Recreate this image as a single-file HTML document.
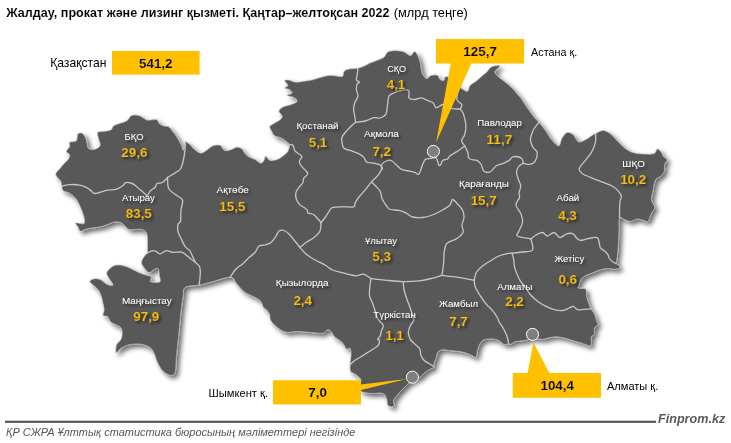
<!DOCTYPE html>
<html lang="kk"><head><meta charset="utf-8"><title>Жалдау, прокат және лизинг қызметі</title>
<style>
html,body{margin:0;padding:0;background:#fff;}
body{width:731px;height:443px;overflow:hidden;font-family:"Liberation Sans", Arial, sans-serif;}
svg{display:block;}
text{font-family:"Liberation Sans", Arial, sans-serif;}
</style></head><body>
<svg width="731" height="443" viewBox="0 0 731 443">
<defs>
<filter id="sh" x="-5%" y="-5%" width="112%" height="112%">
<feGaussianBlur in="SourceAlpha" stdDeviation="2.8"/>
<feOffset dx="3" dy="3" result="o"/>
<feComponentTransfer><feFuncA type="linear" slope="0.6"/></feComponentTransfer>
<feMerge><feMergeNode/><feMergeNode in="SourceGraphic"/></feMerge>
</filter>
<filter id="ts" x="-20%" y="-20%" width="150%" height="160%">
<feGaussianBlur in="SourceAlpha" stdDeviation="1.4"/>
<feOffset dx="1.7" dy="1.7"/>
<feComponentTransfer><feFuncA type="linear" slope="0.55"/></feComponentTransfer>
<feMerge><feMergeNode/><feMergeNode in="SourceGraphic"/></feMerge>
</filter>
</defs>
<rect width="731" height="443" fill="#fff"/>
<text x="6.30" y="17.00" font-size="12.95" font-weight="bold" fill="#000" textLength="383.20" lengthAdjust="spacingAndGlyphs" stroke="#fff" stroke-width="0.08">Жалдау, прокат және лизинг қызметі. Қаңтар–желтоқсан 2022</text>
<text x="393.80" y="17.00" font-size="12.95" fill="#000" textLength="74.00" lengthAdjust="spacingAndGlyphs">(млрд теңге)</text>
<path d="M55.7,174.4C55.6,172.3 58.4,170.5 59.8,168.7C61.2,166.9 62.5,165.2 63.9,163.7C65.3,162.2 67.1,161.1 68.1,159.6C69.1,158.1 70.0,156.1 69.7,154.7C69.4,153.3 66.4,152.8 66.4,151.4C66.4,150.0 69.2,147.9 69.7,146.4C70.2,144.9 68.6,143.2 69.7,142.3C70.8,141.4 74.9,142.1 76.3,140.7C77.7,139.3 76.9,135.3 77.9,134.1C78.9,132.8 80.8,132.6 82.1,133.2C83.3,133.8 84.6,135.8 85.4,137.4C86.2,139.1 86.5,141.3 87.0,143.1C87.5,144.9 87.2,147.0 88.2,148.1C89.2,149.2 91.2,149.7 92.8,149.7C94.4,149.7 96.5,148.9 97.7,148.1C98.9,147.3 100.1,146.5 100.2,144.8C100.3,143.2 98.9,140.3 98.5,138.2C98.1,136.1 97.0,133.5 97.7,132.4C98.4,131.3 100.5,132.0 102.7,131.6C104.9,131.2 109.0,131.0 110.9,130.0C112.8,129.0 111.6,127.0 114.2,125.5C116.8,124.0 123.6,122.7 126.5,121.0C129.4,119.3 129.4,116.4 131.5,115.5C133.6,114.6 136.5,114.8 139.0,115.5C141.5,116.2 144.7,119.2 146.5,120.0C148.3,120.8 148.3,120.0 150.0,120.0C151.7,120.0 155.2,119.1 156.8,119.7C158.4,120.3 158.2,122.7 159.3,123.7C160.5,124.7 162.1,125.4 163.7,125.9C165.2,126.4 167.1,125.9 168.6,126.8C170.1,127.7 171.1,129.4 172.4,131.1C173.8,132.8 175.5,134.8 176.7,136.7C177.9,138.6 179.0,140.8 179.8,142.3C180.6,143.9 181.1,144.6 181.7,146.0C182.3,147.4 182.7,150.5 183.2,150.5C183.7,150.5 184.2,147.5 184.6,146.0C185.0,144.5 184.5,141.9 185.4,141.7C186.3,141.4 188.3,143.2 189.9,144.5C191.5,145.8 193.0,148.2 194.8,149.7C196.6,151.1 198.7,153.1 200.6,153.2C202.5,153.3 204.3,151.8 206.4,150.5C208.5,149.2 210.7,146.5 213.0,145.7C215.3,144.9 218.5,144.7 220.4,145.5C222.3,146.3 222.7,149.8 224.5,150.5C226.3,151.2 229.0,150.2 231.1,149.7C233.2,149.1 235.0,147.3 236.8,147.2C238.6,147.0 240.4,147.7 241.8,148.8C243.2,149.9 243.9,152.4 245.1,153.8C246.3,155.2 247.5,156.2 249.2,157.1C250.8,158.0 253.1,158.5 255.0,159.5C256.9,160.5 259.2,163.0 260.7,163.2C262.2,163.3 263.2,161.6 264.0,160.4C264.8,159.2 264.7,156.2 265.7,156.2C266.7,156.2 267.9,159.8 269.8,160.4C271.7,161.0 274.9,160.3 277.2,159.5C279.5,158.7 282.0,156.8 283.8,155.4C285.6,154.0 286.9,153.1 287.9,151.3C288.9,149.5 289.7,146.2 289.6,144.7C289.5,143.2 288.5,143.3 287.1,142.2C285.7,141.1 283.4,139.2 281.3,138.1C279.2,137.0 276.4,136.9 274.7,135.7C273.0,134.5 272.2,132.2 271.4,130.7C270.6,129.2 269.4,127.8 269.8,126.6C270.2,125.4 272.3,124.5 274.0,123.4C275.7,122.3 278.4,121.3 279.8,120.1C281.2,118.9 282.4,117.5 282.2,116.0C282.0,114.5 278.8,112.6 278.9,111.1C279.0,109.6 281.5,108.0 283.1,107.0C284.8,106.0 286.8,106.0 288.8,105.3C290.9,104.6 294.0,103.6 295.4,102.8C296.8,102.0 297.5,101.4 297.1,100.4C296.7,99.5 294.6,97.9 293.0,97.1C291.4,96.3 287.3,96.1 287.2,95.4C287.1,94.7 291.7,94.0 292.1,93.0C292.5,92.0 290.9,90.5 289.7,89.7C288.5,88.9 285.0,88.7 284.7,88.0C284.4,87.3 288.0,86.7 288.0,85.5C288.0,84.3 284.6,81.5 284.7,80.6C284.8,79.7 287.0,79.8 288.8,80.1C290.6,80.4 293.1,82.0 295.4,82.2C297.7,82.4 299.9,81.8 302.8,81.4C305.7,81.0 309.7,80.5 312.7,79.8C315.7,79.1 318.5,78.0 321.0,77.3C323.5,76.6 325.3,76.0 327.5,75.7C329.7,75.4 331.6,75.6 334.1,75.7C336.6,75.8 340.8,77.2 342.4,76.5C344.0,75.8 342.9,72.7 344.0,71.5C345.1,70.3 346.7,69.6 349.0,69.1C351.3,68.5 355.3,68.8 358.0,68.2C360.7,67.6 363.4,66.3 365.4,65.5C367.4,64.7 368.1,63.9 370.0,63.1C371.9,62.3 374.3,61.6 376.6,60.6C378.9,59.6 382.2,58.7 384.0,57.3C385.8,55.9 385.8,53.5 387.3,52.4C388.8,51.3 390.5,50.9 393.1,50.7C395.7,50.6 400.1,50.7 403.0,51.5C405.9,52.3 408.5,55.7 410.4,55.7C412.3,55.7 413.3,51.5 414.5,51.5C415.7,51.5 416.8,53.8 417.8,55.7C418.8,57.6 419.8,60.9 420.3,63.1C420.9,65.3 420.7,66.9 421.1,68.8C421.5,70.7 421.8,72.9 422.7,74.6C423.6,76.2 425.4,78.6 426.8,78.7C428.2,78.8 429.2,76.0 431.0,75.4C432.8,74.9 436.1,74.7 437.6,75.4C439.1,76.1 438.9,78.7 440.0,79.5C441.1,80.3 443.3,80.8 444.1,80.4C444.9,80.0 444.3,77.6 445.0,77.1C445.7,76.5 447.5,76.8 448.3,77.1C449.1,77.4 448.9,77.8 450.0,79.0C451.1,80.2 453.0,82.4 455.0,84.0C457.0,85.6 459.7,87.6 461.8,88.8C463.9,90.0 466.1,91.8 467.5,91.3C468.9,90.8 468.6,87.2 470.0,85.5C471.4,83.8 473.9,82.9 475.8,81.4C477.7,79.9 479.6,78.1 481.5,76.4C483.4,74.8 485.7,73.1 487.3,71.5C488.9,69.9 489.3,67.9 491.4,66.9C493.5,65.9 498.7,65.4 499.7,65.7C500.7,66.0 498.0,67.9 497.2,69.0C496.4,70.1 494.4,70.9 494.7,72.3C495.0,73.7 497.0,75.5 498.8,77.2C500.6,78.9 503.2,80.4 505.4,82.2C507.6,84.0 510.1,86.1 512.0,88.0C513.9,89.9 515.4,91.8 517.0,93.7C518.6,95.6 520.4,97.4 521.9,99.5C523.4,101.6 524.6,104.0 526.0,106.1C527.4,108.1 528.6,109.8 530.1,111.8C531.6,113.8 533.6,116.6 535.1,118.4C536.6,120.2 537.5,120.5 539.2,122.5C540.9,124.5 543.3,127.6 545.4,130.5C547.5,133.4 549.4,137.2 551.6,139.8C553.8,142.4 557.0,146.1 558.7,145.9C560.4,145.7 560.4,140.9 561.8,138.7C563.2,136.5 565.1,133.3 567.0,132.6C568.9,131.9 571.2,133.1 573.1,134.6C575.0,136.1 576.2,140.9 578.3,141.8C580.3,142.7 583.2,140.8 585.4,139.8C587.6,138.8 589.9,136.7 591.6,135.7C593.3,134.7 593.8,134.5 595.7,133.6C597.6,132.7 600.5,130.5 602.9,130.5C605.3,130.5 607.9,132.0 610.1,133.6C612.3,135.2 614.2,137.8 616.2,139.8C618.2,141.9 620.5,144.2 622.4,145.9C624.3,147.6 625.5,148.8 627.5,150.0C629.5,151.2 631.8,152.4 634.7,153.1C637.6,153.8 641.8,154.0 645.0,154.1C648.2,154.2 652.2,154.3 654.2,153.5C656.2,152.7 656.1,149.2 657.3,149.0C658.5,148.8 660.4,150.9 661.4,152.1C662.4,153.3 662.1,154.9 663.1,156.2C664.1,157.5 667.0,158.5 667.2,159.9C667.4,161.3 665.0,162.6 664.5,164.4C664.0,166.2 665.0,168.7 664.5,170.6C664.0,172.5 662.8,174.3 661.4,175.7C660.0,177.1 657.5,177.4 656.3,178.8C655.1,180.2 654.8,181.7 654.2,183.9C653.6,186.1 653.3,189.4 652.8,192.1C652.3,194.8 651.1,197.4 651.4,200.0C651.7,202.6 654.7,205.2 654.7,207.4C654.7,209.6 652.5,210.9 651.4,213.2C650.3,215.5 649.3,220.2 648.1,221.4C646.9,222.6 645.8,221.0 644.0,220.6C642.2,220.2 639.6,218.8 637.4,218.9C635.2,219.0 632.8,221.2 630.8,221.4C628.8,221.6 627.0,220.4 625.1,219.8C623.2,219.2 620.6,216.5 619.6,218.1C618.6,219.7 619.2,225.8 619.0,229.6C618.8,233.4 618.7,237.3 618.5,241.2C618.3,245.0 618.0,249.5 617.7,252.7C617.4,255.8 617.0,258.3 616.8,260.1C616.6,261.9 615.8,262.5 616.3,263.6C616.8,264.7 620.1,265.8 620.1,266.7C620.1,267.6 618.0,268.9 616.0,269.2C614.0,269.5 610.5,268.3 607.8,268.4C605.0,268.5 602.0,269.3 599.5,270.0C597.0,270.7 595.2,271.9 593.0,272.8C590.8,273.7 588.0,274.4 586.0,275.5C584.0,276.6 582.1,277.9 581.0,279.5C579.9,281.1 579.5,283.6 579.1,285.0C578.7,286.4 577.6,287.5 578.7,288.2C579.8,288.9 584.4,287.7 585.7,289.1C587.0,290.5 586.0,294.0 586.5,296.5C587.0,299.0 588.3,301.8 589.0,303.9C589.7,305.9 589.9,307.0 590.9,308.8C591.9,310.6 593.8,312.7 594.7,314.6C595.6,316.5 595.9,318.8 596.4,320.4C596.9,322.0 598.3,323.3 598.0,324.5C597.7,325.7 595.3,326.2 594.7,327.8C594.1,329.4 594.8,332.9 594.2,334.4C593.7,335.9 591.9,335.3 591.4,336.8C590.9,338.3 591.7,341.9 591.4,343.4C591.1,344.9 591.3,345.9 589.8,345.9C588.3,345.9 585.0,344.2 582.4,343.4C579.8,342.6 576.9,341.8 574.1,341.0C571.4,340.2 568.6,339.2 565.9,338.5C563.2,337.8 560.5,336.9 557.7,336.8C555.0,336.7 551.7,337.3 549.4,337.7C547.1,338.1 545.5,339.1 543.7,339.3C541.9,339.5 540.7,339.1 538.7,339.0C536.8,338.9 534.0,338.3 532.0,338.5C530.0,338.7 528.4,339.7 526.4,340.1C524.4,340.6 521.6,340.9 519.8,341.2C517.9,341.4 516.6,341.2 515.3,341.6C514.0,342.0 513.1,343.3 512.0,343.7C510.9,344.1 510.0,344.1 508.6,344.2C507.2,344.3 505.4,344.8 503.8,344.2C502.2,343.6 500.7,341.5 498.8,340.6C496.9,339.7 494.8,339.0 492.3,338.9C489.8,338.8 486.1,339.0 484.0,339.8C481.9,340.6 481.0,342.1 479.9,343.9C478.8,345.7 478.0,348.3 477.4,350.5C476.8,352.7 477.1,356.3 476.1,357.1C475.2,357.9 473.4,356.1 471.7,355.4C470.0,354.7 468.2,353.6 465.9,352.9C463.6,352.2 460.4,351.7 457.7,351.3C454.9,350.9 451.9,350.8 449.4,350.5C446.9,350.2 444.7,349.4 442.8,349.7C440.9,350.0 439.0,350.7 437.9,352.1C436.8,353.5 436.9,356.0 436.2,357.9C435.5,359.8 434.1,362.2 433.8,363.7C433.5,365.2 434.8,366.1 434.1,367.0C433.4,367.9 431.1,368.6 429.7,369.4C428.3,370.2 426.8,370.9 425.5,371.9C424.2,372.9 423.3,374.2 422.2,375.2C421.1,376.2 420.6,376.6 418.9,377.7C417.2,378.8 413.8,380.5 412.0,381.5C410.2,382.5 409.5,382.8 408.3,383.7C407.1,384.6 406.4,385.6 405.0,387.0C403.6,388.4 401.5,390.3 400.0,391.9C398.5,393.5 397.0,395.3 395.9,396.8C394.8,398.3 393.7,399.6 393.4,401.0C393.1,402.4 394.6,404.2 394.3,405.1C394.0,406.1 392.9,406.7 391.8,406.7C390.7,406.7 388.5,406.3 387.7,405.1C386.9,403.9 387.4,401.1 386.8,399.3C386.2,397.5 385.6,395.4 384.4,394.4C383.2,393.3 381.3,393.1 379.4,393.0C377.5,392.9 375.1,393.6 372.8,393.5C370.5,393.4 367.4,393.1 365.4,392.7C363.4,392.3 362.1,392.2 361.0,391.1C359.9,390.0 359.0,387.8 359.0,386.0C359.0,384.2 361.0,381.9 361.0,380.4C361.0,378.9 359.9,378.2 358.8,377.1C357.8,376.0 356.1,374.8 354.7,373.8C353.3,372.8 351.4,372.8 350.6,371.3C349.8,369.8 350.1,366.6 350.1,364.7C350.1,362.8 350.4,361.7 350.6,359.8C350.8,357.9 351.2,355.1 351.1,353.2C351.0,351.3 350.6,348.9 349.8,348.2C349.0,347.5 347.5,349.7 346.5,349.1C345.5,348.6 344.9,346.2 344.0,344.9C343.1,343.6 342.5,342.6 340.9,341.3C339.3,340.0 336.2,338.4 334.6,336.8C333.0,335.2 332.3,332.7 331.1,331.5C329.9,330.3 328.9,329.4 327.5,329.7C326.1,330.0 325.2,332.8 323.0,333.3C320.8,333.8 317.1,332.9 314.1,332.7C311.1,332.5 308.2,332.2 305.2,332.0C302.2,331.8 299.3,331.4 296.3,331.5C293.3,331.6 290.1,332.7 287.4,332.4C284.7,332.1 282.4,330.9 280.3,329.7C278.2,328.5 276.5,326.9 274.9,325.3C273.3,323.7 271.4,321.7 270.5,319.9C269.6,318.1 270.2,316.2 269.6,314.6C269.0,313.0 267.9,311.3 266.9,310.1C265.8,308.9 264.1,308.3 263.3,307.4C262.6,306.5 263.0,306.0 262.4,304.8C261.8,303.6 261.3,301.7 259.8,300.3C258.3,298.9 255.7,297.9 253.5,296.7C251.3,295.5 248.5,294.5 246.4,293.2C244.3,291.9 242.8,290.5 241.0,288.7C239.2,286.9 237.5,284.4 235.7,282.5C233.9,280.6 234.6,277.1 230.3,277.1C226.0,277.1 215.2,281.1 210.0,282.4C204.8,283.7 203.2,284.3 199.1,285.1C195.0,285.9 187.8,285.5 185.2,287.4C182.5,289.3 183.9,292.2 183.2,296.3C182.5,300.4 181.7,305.7 180.9,312.1C180.2,318.5 179.4,327.2 178.7,334.7C177.9,342.2 177.0,351.0 176.4,357.2C175.8,363.4 176.1,368.9 175.3,371.9C174.6,374.9 173.2,374.9 171.9,375.3C170.6,375.7 169.1,375.1 167.4,374.2C165.7,373.3 163.4,371.8 161.7,369.7C160.0,367.6 158.5,364.5 157.2,361.7C155.9,358.9 155.1,355.1 153.8,352.7C152.5,350.3 151.6,348.5 149.3,347.1C147.1,345.7 143.7,344.5 140.3,344.1C136.9,343.7 132.2,344.1 129.0,344.8C125.8,345.5 123.2,346.9 121.1,348.2C119.0,349.5 117.0,353.3 116.2,352.7C115.5,352.1 115.8,347.1 116.6,344.8C117.4,342.6 120.2,341.3 121.1,339.2C122.0,337.1 122.4,334.5 122.2,332.4C122.0,330.3 121.9,328.5 120.0,326.8C118.1,325.1 113.1,323.9 111.0,322.2C108.9,320.5 108.9,317.7 107.6,316.6C106.3,315.5 103.7,316.6 103.1,315.5C102.5,314.4 104.2,312.0 104.2,309.8C104.2,307.6 103.3,304.7 102.8,302.5C102.3,300.3 102.1,298.6 101.4,296.6C100.7,294.6 99.9,292.2 98.7,290.4C97.5,288.6 95.8,287.5 94.3,286.0C92.8,284.5 89.8,282.7 89.8,281.5C89.8,280.3 92.5,279.1 94.3,278.8C96.1,278.5 98.4,278.8 100.5,279.7C102.6,280.6 104.6,283.3 106.7,284.2C108.8,285.1 112.5,286.0 113.0,285.1C113.5,284.2 110.5,280.7 109.4,278.8C108.4,276.9 106.7,275.1 106.7,273.5C106.7,271.9 108.1,270.3 109.4,269.0C110.8,267.7 112.6,266.1 114.8,265.5C117.0,264.9 120.0,264.9 122.8,265.5C125.6,266.1 129.0,267.8 131.7,269.0C134.4,270.2 136.3,271.6 138.8,272.6C141.3,273.7 144.7,274.6 146.8,275.3C148.9,276.0 150.7,276.0 151.3,277.0C151.9,278.0 149.8,280.6 150.4,281.5C151.0,282.4 153.3,282.4 154.9,282.4C156.5,282.4 159.5,282.7 160.2,281.5C160.9,280.3 159.6,277.4 159.3,275.3C159.0,273.2 159.1,270.1 158.4,269.0C157.7,267.9 156.4,268.4 154.9,269.0C153.4,269.6 151.1,272.6 149.5,272.6C147.9,272.6 146.4,270.6 145.1,269.0C143.8,267.4 141.7,264.9 141.5,262.8C141.3,260.7 143.2,258.1 144.2,256.5C145.2,254.9 146.8,254.2 147.4,253.0C148.0,251.8 147.5,251.5 147.5,249.2C147.5,246.9 147.7,242.1 147.5,239.3C147.3,236.6 147.3,234.3 146.4,232.7C145.5,231.0 144.1,229.9 142.3,229.4C140.5,228.9 137.9,229.4 135.7,229.4C133.5,229.4 130.9,230.0 129.1,229.4C127.3,228.8 126.4,227.2 125.0,226.1C123.6,224.9 122.6,223.2 120.8,222.5C119.0,221.8 116.5,221.7 114.3,222.0C112.1,222.3 110.2,223.7 107.7,224.5C105.2,225.3 102.2,226.4 99.4,227.0C96.7,227.6 93.5,227.7 91.2,228.1C88.9,228.5 87.2,228.9 85.4,229.4C83.6,229.9 81.7,231.5 80.5,231.1C79.3,230.7 78.8,228.3 78.0,227.0C77.2,225.7 75.4,223.8 75.5,223.2C75.6,222.6 77.4,223.1 78.8,223.2C80.2,223.3 82.8,224.2 83.8,223.7C84.8,223.2 84.7,222.1 84.6,220.4C84.5,218.8 83.7,216.0 83.0,213.8C82.3,211.6 81.5,209.4 80.5,207.2C79.5,205.0 78.4,202.5 77.2,200.6C76.0,198.7 74.6,197.1 73.1,195.7C71.6,194.3 69.8,193.2 68.1,192.4C66.4,191.6 64.3,191.8 63.2,190.7C62.1,189.6 62.1,187.6 61.7,186.0C61.3,184.4 61.7,182.9 60.7,181.0C59.7,179.1 55.9,176.5 55.7,174.4Z" fill="#595959" stroke="#c0c0c0" stroke-width="0.7" stroke-linejoin="round" filter="url(#sh)"/>
<g fill="none" stroke="#c6c6c6" stroke-width="1.3" stroke-linejoin="round" stroke-linecap="round">
<path d="M62.3,186.0C63.5,185.8 66.8,184.8 69.7,184.6C72.6,184.4 76.8,184.6 79.6,185.1C82.3,185.6 84.4,186.5 86.2,187.3C88.0,188.1 88.9,189.1 90.3,190.1C91.7,191.1 92.9,193.0 94.4,193.4C95.9,193.8 97.2,193.1 99.4,192.5C101.6,191.9 104.9,190.6 107.6,190.1C110.3,189.6 113.3,190.0 115.8,189.3C118.3,188.6 120.8,187.1 122.4,186.0C124.1,184.9 124.3,183.2 125.7,182.7C127.1,182.2 129.2,182.6 130.7,183.0C132.2,183.4 133.2,183.9 134.8,185.1C136.5,186.3 138.8,188.6 140.6,190.1C142.4,191.6 144.4,193.2 145.5,194.2C146.6,195.1 146.3,196.4 147.1,195.8C147.9,195.2 149.1,192.3 150.4,190.9C151.7,189.5 153.9,188.7 155.0,187.5C156.1,186.3 155.8,184.3 157.0,183.5C158.2,182.7 160.8,183.5 162.5,182.5C164.2,181.5 166.7,178.3 167.5,177.5"/>
<path d="M167.5,177.5C168.8,176.7 173.2,174.1 175.3,172.7C177.5,171.3 179.1,171.1 180.4,169.0C181.8,166.9 182.7,163.2 183.4,160.0C184.2,156.8 184.6,152.9 184.9,150.0C185.2,147.1 185.3,143.8 185.4,142.6"/>
<path d="M167.5,177.5C167.7,179.4 167.3,185.8 168.8,188.8C170.2,191.7 173.7,193.1 176.0,195.0C178.3,196.9 181.7,197.5 182.5,200.0C183.3,202.5 181.3,206.5 181.0,210.0C180.7,213.5 181.0,218.6 180.5,221.0C180.0,223.4 178.4,222.7 178.0,224.5C177.6,226.3 177.4,229.1 178.0,231.6C178.6,234.1 180.4,237.1 181.6,239.6C182.8,242.1 183.9,244.9 185.2,246.7C186.5,248.5 188.4,248.8 189.6,250.3C190.8,251.8 191.3,253.7 192.3,255.7C193.3,257.7 194.3,260.6 195.5,262.4C196.7,264.2 198.6,264.4 199.4,266.3C200.2,268.2 200.4,270.4 200.3,273.5C200.2,276.6 199.3,283.2 199.1,285.1"/>
<path d="M147.4,253.0C148.3,252.6 151.6,250.9 153.1,250.7C154.6,250.5 155.4,251.2 156.6,251.7C157.8,252.2 158.5,254.1 160.2,253.9C161.8,253.7 164.4,250.9 166.5,250.7C168.6,250.4 170.2,252.2 172.7,252.4C175.2,252.6 179.2,251.6 181.6,252.1C184.0,252.6 185.2,254.4 187.0,255.7C188.8,257.0 190.9,259.0 192.3,260.1C193.7,261.2 195.0,262.0 195.5,262.4"/>
<path d="M289.6,144.7C290.2,144.8 292.1,144.3 293.0,145.3C293.9,146.3 293.8,149.2 294.8,150.7C295.9,152.2 298.1,153.3 299.3,154.3C300.5,155.3 301.9,155.7 301.9,156.9C301.9,158.1 299.3,159.8 299.3,161.4C299.3,163.0 300.9,165.2 301.9,166.7C302.9,168.2 304.5,169.1 305.5,170.3C306.5,171.5 308.1,172.6 307.8,173.9C307.5,175.2 304.5,176.8 303.7,178.3C302.9,179.8 303.7,181.2 302.8,182.8C301.9,184.4 299.6,186.3 298.4,188.1C297.2,189.9 296.0,191.6 295.7,193.5C295.4,195.4 295.9,197.8 296.6,199.7C297.4,201.6 298.9,203.8 300.2,205.1C301.5,206.4 303.4,206.8 304.6,207.7C305.8,208.6 306.7,209.5 307.3,210.4C307.9,211.3 307.2,212.4 308.2,213.1C309.2,213.8 311.9,213.5 313.5,214.5C315.1,215.5 316.8,217.7 318.0,219.0C319.2,220.3 320.5,221.9 321.0,222.5"/>
<path d="M321.0,222.5C321.7,221.7 323.8,219.2 325.1,217.5C326.4,215.8 327.5,213.8 328.7,212.2C329.9,210.6 329.7,208.6 332.2,207.7C334.7,206.8 340.2,207.0 343.8,206.8C347.4,206.7 351.7,207.5 353.6,206.8C355.5,206.1 354.5,204.0 355.4,202.4C356.3,200.8 357.4,199.1 359.0,197.0C360.6,194.9 363.1,192.4 365.2,189.9C367.3,187.4 369.4,184.3 371.5,181.9C373.6,179.5 375.9,177.9 377.7,175.7C379.5,173.5 381.4,169.7 382.1,168.5"/>
<path d="M321.0,222.5C320.8,223.9 321.2,228.5 320.0,231.0C318.8,233.5 316.3,235.6 314.0,237.5C311.7,239.4 308.3,240.8 306.0,242.5C303.7,244.2 301.0,246.7 300.0,247.5"/>
<path d="M300.0,247.5C299.0,246.2 295.8,242.2 294.0,240.0C292.2,237.8 290.7,235.6 289.0,234.0C287.3,232.4 285.7,231.0 284.0,230.5C282.3,230.0 280.3,230.1 279.0,231.0C277.7,231.9 277.3,234.1 276.0,236.0C274.7,237.9 272.8,241.0 271.0,242.5C269.2,244.0 267.0,244.4 265.0,245.0C263.0,245.6 260.7,244.8 259.0,246.0C257.3,247.2 256.7,250.6 255.0,252.5C253.3,254.4 251.1,255.6 249.0,257.5C246.9,259.4 244.7,262.1 242.5,264.0C240.3,265.9 238.1,266.8 236.0,269.0C233.9,271.2 231.0,276.1 230.0,277.5"/>
<path d="M300.0,247.5C301.0,248.6 303.5,251.9 306.0,254.0C308.5,256.1 311.8,258.2 315.0,260.0C318.2,261.8 322.1,263.3 325.0,265.0C327.9,266.7 330.0,268.8 332.5,270.0C335.0,271.2 337.5,271.5 340.0,272.2C342.5,272.9 344.7,273.5 347.4,274.1C350.1,274.7 353.4,275.9 356.1,275.9C358.8,275.9 361.1,273.7 363.6,274.1C366.1,274.6 369.8,277.9 371.0,278.6"/>
<path d="M371.0,278.6C370.8,280.0 370.1,284.1 369.8,287.0C369.6,289.9 369.1,293.0 369.5,295.7C369.9,298.4 371.8,301.1 372.5,303.0C373.2,304.9 373.4,305.6 374.0,307.4C374.6,309.1 375.2,311.4 375.9,313.5C376.6,315.6 377.3,318.1 378.3,319.7C379.3,321.3 381.2,322.3 382.0,323.4C382.8,324.5 383.4,325.3 383.3,326.5C383.2,327.7 381.9,329.3 381.4,330.8C380.9,332.3 380.8,334.3 380.2,335.7C379.6,337.1 377.8,338.7 377.7,339.4C377.6,340.1 379.2,339.1 379.4,340.0C379.5,340.9 379.4,343.5 378.6,344.9C377.8,346.3 376.3,346.9 374.5,348.2C372.7,349.4 370.1,351.0 367.9,352.4C365.7,353.8 363.5,355.1 361.3,356.5C359.1,357.9 356.6,359.2 354.7,360.6C352.8,362.0 350.9,364.0 350.1,364.7"/>
<path d="M371.0,278.6C373.3,278.9 379.3,279.6 384.7,280.1C390.1,280.6 397.5,281.5 403.3,281.6C409.1,281.7 414.6,281.3 419.4,280.8C424.1,280.3 428.1,279.3 431.8,278.4C435.5,277.5 440.1,275.9 441.8,275.4"/>
<path d="M403.3,281.6C403.4,282.9 403.4,286.5 404.0,289.5C404.6,292.5 406.1,296.9 407.0,299.5C407.9,302.1 408.4,303.2 409.1,305.0C409.8,306.8 410.4,308.7 411.0,310.5C411.6,312.3 412.3,314.3 412.8,316.0C413.3,317.7 414.2,319.0 413.8,320.5C413.4,322.0 411.6,323.1 410.7,324.9C409.8,326.7 408.7,329.6 408.4,331.5C408.1,333.4 408.7,335.1 409.1,336.5C409.5,337.9 409.7,338.7 410.7,340.0C411.7,341.3 413.7,342.9 415.2,344.4C416.7,345.9 418.8,347.1 419.8,349.0C420.8,350.9 420.2,353.6 421.0,355.5C421.8,357.4 422.9,359.1 424.3,360.5C425.7,361.9 427.9,362.8 429.5,363.8C431.1,364.8 433.3,366.2 434.1,366.7"/>
<path d="M371.5,181.9C372.2,182.6 374.4,184.7 375.9,186.3C377.4,187.9 379.4,189.6 380.4,191.7C381.4,193.8 381.1,196.4 382.1,198.8C383.1,201.2 385.2,204.2 386.6,206.0C388.0,207.8 388.1,208.8 390.2,209.5C392.3,210.2 396.4,209.8 399.1,210.4C401.8,211.0 404.0,212.0 406.2,213.1C408.4,214.2 409.8,216.3 412.5,217.0C415.2,217.7 419.2,217.8 422.5,217.5C425.8,217.2 429.2,216.2 432.5,215.0C435.8,213.8 439.6,211.7 442.5,210.0C445.4,208.3 448.3,206.8 450.0,205.0C451.7,203.2 451.2,199.7 452.5,199.5C453.8,199.3 455.8,202.2 457.5,204.0C459.2,205.8 461.4,207.8 462.5,210.0C463.6,212.2 464.1,215.0 464.0,217.5C463.9,220.0 462.2,222.5 462.0,225.0C461.8,227.5 463.9,230.1 463.0,232.4C462.1,234.7 459.3,236.7 456.6,238.6C453.9,240.5 448.8,241.3 446.7,243.6C444.6,245.9 444.7,249.2 444.2,252.3C443.7,255.4 443.9,259.2 443.7,262.2C443.5,265.1 443.1,267.8 442.8,270.0C442.5,272.2 442.0,274.5 441.8,275.4"/>
<path d="M441.8,275.4C444.3,275.7 452.3,276.5 456.6,277.1C460.9,277.7 464.9,278.6 467.8,279.1C470.7,279.6 473.1,279.9 474.2,280.1"/>
<path d="M474.2,280.1C474.4,281.2 474.3,284.4 475.3,287.0C476.3,289.6 478.4,292.8 480.2,295.7C482.0,298.6 484.3,301.9 486.4,304.4C488.5,306.9 490.7,308.3 492.6,310.6C494.5,312.9 496.5,316.1 497.6,318.0C498.7,319.9 498.4,320.5 499.2,322.0C500.0,323.5 501.6,325.2 502.7,327.2C503.8,329.2 505.1,331.7 506.0,333.8C506.9,335.9 507.6,338.1 508.0,339.8C508.4,341.5 508.5,343.5 508.6,344.2"/>
<path d="M474.2,280.1C474.6,278.8 475.1,274.5 476.5,272.1C477.9,269.7 480.4,267.8 482.7,265.9C485.0,264.0 487.5,262.6 490.2,261.0C492.9,259.4 495.7,257.3 498.8,256.0C501.9,254.7 506.2,253.8 508.7,253.3C511.2,252.8 511.7,253.2 514.0,253.0C516.3,252.8 519.4,252.5 522.5,252.0C525.6,251.5 531.1,252.2 532.5,250.0C533.9,247.8 531.2,240.8 531.0,239.0"/>
<path d="M512.0,253.0C512.3,254.1 513.2,257.1 513.7,259.7C514.2,262.3 513.9,265.0 514.9,268.4C515.9,271.8 518.2,277.0 519.8,280.0C521.4,283.0 522.9,284.1 524.7,286.6C526.5,289.1 528.3,292.3 530.5,294.8C532.7,297.3 535.3,299.5 537.9,301.4C540.5,303.3 543.4,305.0 546.1,306.4C548.9,307.8 551.6,309.0 554.4,309.7C557.1,310.4 560.1,310.8 562.6,310.5C565.1,310.2 567.4,308.7 569.2,308.0C571.0,307.3 571.9,306.1 573.3,306.4C574.7,306.7 575.6,309.2 577.4,309.7C579.2,310.2 581.8,309.4 584.0,309.3C586.2,309.2 589.8,308.9 590.9,308.8"/>
<path d="M531.0,239.0C531.8,238.3 534.1,236.1 536.0,235.0C537.9,233.9 540.6,232.3 542.5,232.5C544.4,232.7 545.6,236.0 547.5,236.0C549.4,236.0 551.9,232.2 554.0,232.5C556.1,232.8 557.9,237.3 560.0,237.5C562.1,237.7 564.4,234.4 566.6,233.8C568.8,233.2 571.6,233.1 573.2,233.8C574.9,234.5 575.3,236.8 576.5,237.9C577.7,239.0 578.7,240.3 580.6,240.4C582.5,240.5 585.2,239.2 588.0,238.7C590.8,238.2 595.2,236.9 597.1,237.6C599.0,238.3 598.7,241.1 599.2,242.8C599.8,244.5 599.5,246.4 600.4,247.8C601.3,249.2 603.3,250.0 604.5,251.1C605.7,252.2 607.0,253.2 607.8,254.4C608.6,255.6 608.6,257.3 609.4,258.5C610.2,259.7 611.6,260.9 612.7,261.8C613.9,262.7 615.7,263.3 616.3,263.6"/>
<path d="M523.2,163.2C522.4,163.8 519.4,165.4 518.3,167.0C517.2,168.6 516.6,170.6 516.6,172.7C516.6,174.8 517.6,177.1 518.3,179.3C519.0,181.5 520.6,183.6 520.7,185.9C520.8,188.2 519.2,191.1 519.0,193.0C518.8,194.9 520.0,195.5 519.5,197.5C519.0,199.5 515.8,202.2 516.0,205.0C516.2,207.8 519.9,211.1 521.0,214.0C522.1,216.9 522.8,219.7 522.5,222.5C522.2,225.3 519.8,228.8 519.0,231.0C518.2,233.2 515.5,234.7 517.5,236.0C519.5,237.3 528.8,238.5 531.0,239.0"/>
<path d="M523.2,163.2C524.3,163.4 527.8,164.7 529.8,164.4C531.8,164.1 533.9,163.3 535.1,161.3C536.3,159.3 537.5,154.8 537.2,152.5C536.9,150.2 534.2,149.4 533.1,147.5C532.0,145.6 531.0,142.9 530.6,141.0C530.2,139.1 530.4,138.3 531.0,136.2C531.6,134.1 532.7,130.9 534.1,128.5C535.5,126.1 538.4,123.1 539.2,122.0"/>
<path d="M464.7,146.0C465.2,147.0 467.2,150.3 467.8,152.2C468.4,154.1 467.9,156.0 468.4,157.2C468.9,158.4 469.6,159.0 471.0,159.5C472.4,160.0 475.3,159.6 477.0,160.4C478.7,161.2 480.1,162.7 481.2,164.5C482.3,166.3 482.2,169.8 483.7,171.0C485.2,172.2 488.1,172.8 490.2,172.0C492.2,171.2 493.9,167.4 496.0,166.0C498.1,164.6 500.4,164.6 502.6,163.7C504.8,162.8 507.6,161.5 509.2,160.4C510.8,159.3 510.9,157.6 512.5,157.0C514.1,156.4 517.4,156.6 519.0,157.0C520.6,157.4 521.7,158.5 522.4,159.5C523.1,160.5 523.1,162.6 523.2,163.2"/>
<path d="M460.1,109.1C460.6,109.7 462.0,110.9 462.8,112.5C463.6,114.1 464.2,116.4 464.7,118.7C465.2,121.0 465.9,123.4 465.9,126.1C465.9,128.8 465.4,132.4 464.7,134.8C464.0,137.2 461.6,138.5 461.6,140.4C461.6,142.3 464.2,145.1 464.7,146.0"/>
<path d="M459.0,88.0C458.6,89.9 456.3,96.8 456.8,99.5C457.3,102.2 461.2,102.9 461.8,104.5C462.4,106.1 460.4,108.3 460.1,109.1"/>
<path d="M355.6,122.3C357.2,122.1 362.4,121.8 365.4,121.0C368.4,120.2 371.3,118.2 373.7,117.7C376.1,117.2 377.9,118.6 380.0,118.0C382.1,117.4 384.8,116.2 386.0,114.0C387.2,111.8 387.0,108.0 387.5,105.0C388.0,102.0 387.8,98.1 389.0,96.0C390.2,93.9 392.5,93.5 395.0,92.5C397.5,91.5 401.7,90.2 404.0,90.0C406.3,89.8 408.2,89.7 409.0,91.0C409.8,92.3 408.0,96.5 409.0,97.9C410.0,99.3 412.7,99.5 414.8,99.5C416.9,99.5 419.3,97.8 421.4,97.9C423.5,98.1 425.3,99.6 427.2,100.4C429.1,101.2 431.5,101.6 433.0,102.8C434.5,104.0 434.6,107.5 436.2,107.8C437.8,108.1 440.8,104.6 442.8,104.5C444.8,104.4 446.4,106.3 448.0,107.0C449.6,107.7 450.7,108.2 452.7,108.6C454.7,108.9 458.9,109.0 460.1,109.1"/>
<path d="M358.0,68.2C357.9,69.3 357.5,72.9 357.2,74.8C356.9,76.7 356.0,78.6 356.4,79.8C356.8,81.0 359.6,81.5 359.7,82.2C359.8,82.9 357.8,82.7 357.2,83.9C356.6,85.2 356.3,87.7 356.4,89.7C356.5,91.8 358.3,94.0 358.0,96.2C357.7,98.4 355.4,100.6 354.7,102.8C354.0,105.0 353.6,107.2 353.6,109.4C353.6,111.6 354.4,113.8 354.7,116.0C355.0,118.2 355.5,121.2 355.6,122.3"/>
<path d="M355.6,122.3C354.6,123.2 351.6,125.7 349.8,127.5C348.0,129.3 346.1,131.4 344.8,133.0C343.5,134.6 342.7,135.8 342.2,137.0C341.7,138.2 341.4,138.2 341.7,140.0C342.0,141.8 342.2,146.2 343.8,148.0C345.4,149.8 348.6,149.8 351.0,150.7C353.4,151.6 356.0,152.4 358.1,153.4C360.2,154.4 361.9,155.4 363.4,156.9C364.9,158.4 365.2,161.2 367.0,162.3C368.8,163.4 371.7,162.6 374.1,163.2C376.5,163.8 380.0,164.9 381.3,165.8C382.6,166.7 382.0,168.1 382.1,168.5"/>
<path d="M382.1,168.5C382.0,167.9 380.4,166.3 381.3,165.0C382.2,163.7 385.7,161.2 387.5,160.5C389.3,159.8 390.5,160.2 392.0,161.0C393.5,161.8 394.8,163.6 396.4,165.0C398.0,166.4 399.6,168.4 401.8,169.4C404.0,170.4 407.6,170.7 409.8,171.2C412.0,171.7 413.5,171.9 415.0,172.4C416.5,172.9 417.8,175.2 419.0,174.0C420.2,172.8 421.5,167.2 422.4,165.0C423.3,162.8 423.7,162.0 424.3,161.0C424.9,160.0 424.6,159.6 426.1,159.1C427.7,158.6 431.9,158.0 433.6,157.8C435.3,157.6 435.4,157.1 436.1,157.8C436.8,158.5 437.6,161.0 438.0,162.2C438.4,163.4 438.2,164.5 438.6,165.0C439.0,165.5 439.7,165.8 440.4,165.0C441.1,164.2 441.8,161.3 442.9,160.3C444.0,159.3 446.1,159.8 447.3,159.1C448.5,158.4 448.6,157.0 449.8,156.0C451.0,155.0 453.1,153.9 454.7,152.9C456.3,151.9 458.0,151.0 459.7,149.8C461.4,148.7 463.9,146.6 464.7,146.0"/>
<path d="M595.7,133.6C595.6,135.2 596.0,139.8 595.3,142.9C594.6,146.0 593.2,149.2 591.6,152.1C590.0,155.0 587.5,157.6 585.4,160.3C583.3,163.0 579.8,166.3 579.3,168.5C578.8,170.7 580.3,172.1 582.4,173.7C584.5,175.2 588.4,176.4 591.6,177.8C594.9,179.2 598.5,180.5 601.9,181.9C605.3,183.3 609.4,184.5 612.1,186.0C614.8,187.5 616.8,189.4 618.3,191.1C619.8,192.8 621.1,194.5 621.4,196.2C621.7,197.8 620.4,199.0 620.1,201.0C619.8,203.0 619.7,205.3 619.6,208.2C619.5,211.0 619.6,216.4 619.6,218.1"/>
</g>
<rect x="112" y="51" width="87.6" height="23.6" fill="#ffc000"/>
<text x="139.04" y="68.00" font-size="13.57" font-weight="bold" fill="#000" textLength="33.52" lengthAdjust="spacingAndGlyphs" stroke="#ffc000" stroke-width="0.15">541,2</text>
<text x="50.20" y="66.90" font-size="12.03" fill="#000" textLength="56.20" lengthAdjust="spacingAndGlyphs">Қазақстан</text>
<path d="M436,39H524.1V63.4H471.3L436.1,142.5L450.7,63.4H436Z" fill="#ffc000"/>
<text x="463.34" y="56.20" font-size="13.57" font-weight="bold" fill="#000" textLength="33.52" lengthAdjust="spacingAndGlyphs" stroke="#ffc000" stroke-width="0.15">125,7</text>
<text x="531.00" y="55.80" font-size="11.10" fill="#000" textLength="46.25" lengthAdjust="spacingAndGlyphs">Астана қ.</text>
<circle cx="433.4" cy="151.4" r="6.05" fill="#7f7f7f" stroke="#fff" stroke-width="1"/>
<path d="M273,380.2H361V384.5L406.6,379L361,389.9V404.6H273Z" fill="#ffc000"/>
<text x="308.28" y="396.60" font-size="13.57" font-weight="bold" fill="#000" textLength="18.65" lengthAdjust="spacingAndGlyphs" stroke="#ffc000" stroke-width="0.15">7,0</text>
<text x="208.40" y="396.60" font-size="11.10" fill="#000" textLength="59.70" lengthAdjust="spacingAndGlyphs">Шымкент қ.</text>
<circle cx="412.4" cy="377.2" r="6.05" fill="#7f7f7f" stroke="#fff" stroke-width="1"/>
<path d="M512.8,373H527.6L533.4,342.3L549.3,373H601V397.7H512.8Z" fill="#ffc000"/>
<text x="540.44" y="389.60" font-size="13.57" font-weight="bold" fill="#000" textLength="33.52" lengthAdjust="spacingAndGlyphs" stroke="#ffc000" stroke-width="0.15">104,4</text>
<text x="607.00" y="389.60" font-size="11.10" fill="#000" textLength="51.24" lengthAdjust="spacingAndGlyphs">Алматы қ.</text>
<circle cx="532.5" cy="334.4" r="6.05" fill="#7f7f7f" stroke="#fff" stroke-width="1"/>
<g filter="url(#ts)">
<text x="124.50" y="139.70" font-size="9.87" fill="#fff" textLength="18.99" lengthAdjust="spacingAndGlyphs">БҚО</text>
<text x="121.36" y="156.70" font-size="13.57" font-weight="bold" fill="#ffc000" textLength="26.08" lengthAdjust="spacingAndGlyphs" stroke="#595959" stroke-width="0.22">29,6</text>
<text x="121.93" y="200.90" font-size="9.87" fill="#fff" textLength="32.95" lengthAdjust="spacingAndGlyphs">Атырау</text>
<text x="125.76" y="218.20" font-size="13.57" font-weight="bold" fill="#ffc000" textLength="26.08" lengthAdjust="spacingAndGlyphs" stroke="#595959" stroke-width="0.22">83,5</text>
<text x="121.90" y="304.00" font-size="9.87" fill="#fff" textLength="49.80" lengthAdjust="spacingAndGlyphs">Маңғыстау</text>
<text x="133.26" y="321.00" font-size="13.57" font-weight="bold" fill="#ffc000" textLength="26.08" lengthAdjust="spacingAndGlyphs" stroke="#595959" stroke-width="0.22">97,9</text>
<text x="216.62" y="192.80" font-size="9.87" fill="#fff" textLength="32.15" lengthAdjust="spacingAndGlyphs">Ақтөбе</text>
<text x="219.36" y="210.80" font-size="13.57" font-weight="bold" fill="#ffc000" textLength="26.08" lengthAdjust="spacingAndGlyphs" stroke="#595959" stroke-width="0.22">15,5</text>
<text x="296.43" y="128.70" font-size="9.87" fill="#fff" textLength="42.15" lengthAdjust="spacingAndGlyphs">Қостанай</text>
<text x="308.68" y="146.80" font-size="13.57" font-weight="bold" fill="#ffc000" textLength="18.65" lengthAdjust="spacingAndGlyphs" stroke="#595959" stroke-width="0.22">5,1</text>
<text x="387.23" y="71.90" font-size="9.87" fill="#fff" textLength="18.94" lengthAdjust="spacingAndGlyphs">СҚО</text>
<text x="386.68" y="88.50" font-size="13.57" font-weight="bold" fill="#ffc000" textLength="18.65" lengthAdjust="spacingAndGlyphs" stroke="#595959" stroke-width="0.22">4,1</text>
<text x="364.08" y="136.90" font-size="9.87" fill="#fff" textLength="34.83" lengthAdjust="spacingAndGlyphs">Ақмола</text>
<text x="372.38" y="155.50" font-size="13.57" font-weight="bold" fill="#ffc000" textLength="18.65" lengthAdjust="spacingAndGlyphs" stroke="#595959" stroke-width="0.22">7,2</text>
<text x="477.31" y="126.10" font-size="9.87" fill="#fff" textLength="44.58" lengthAdjust="spacingAndGlyphs">Павлодар</text>
<text x="486.36" y="143.50" font-size="13.57" font-weight="bold" fill="#ffc000" textLength="26.08" lengthAdjust="spacingAndGlyphs" stroke="#595959" stroke-width="0.22">11,7</text>
<text x="458.97" y="187.10" font-size="9.87" fill="#fff" textLength="49.85" lengthAdjust="spacingAndGlyphs">Қарағанды</text>
<text x="470.66" y="204.80" font-size="13.57" font-weight="bold" fill="#ffc000" textLength="26.08" lengthAdjust="spacingAndGlyphs" stroke="#595959" stroke-width="0.22">15,7</text>
<text x="556.54" y="200.80" font-size="9.87" fill="#fff" textLength="22.73" lengthAdjust="spacingAndGlyphs">Абай</text>
<text x="558.18" y="220.00" font-size="13.57" font-weight="bold" fill="#ffc000" textLength="18.65" lengthAdjust="spacingAndGlyphs" stroke="#595959" stroke-width="0.22">4,3</text>
<text x="622.34" y="166.90" font-size="9.87" fill="#fff" textLength="22.52" lengthAdjust="spacingAndGlyphs">ШҚО</text>
<text x="620.16" y="183.50" font-size="13.57" font-weight="bold" fill="#ffc000" textLength="26.08" lengthAdjust="spacingAndGlyphs" stroke="#595959" stroke-width="0.22">10,2</text>
<text x="365.09" y="243.60" font-size="9.87" fill="#fff" textLength="31.81" lengthAdjust="spacingAndGlyphs">Ұлытау</text>
<text x="372.28" y="261.00" font-size="13.57" font-weight="bold" fill="#ffc000" textLength="18.65" lengthAdjust="spacingAndGlyphs" stroke="#595959" stroke-width="0.22">5,3</text>
<text x="554.42" y="261.60" font-size="9.87" fill="#fff" textLength="29.77" lengthAdjust="spacingAndGlyphs">Жетісу</text>
<text x="558.38" y="283.90" font-size="13.57" font-weight="bold" fill="#ffc000" textLength="18.65" lengthAdjust="spacingAndGlyphs" stroke="#595959" stroke-width="0.22">0,6</text>
<text x="497.21" y="289.70" font-size="9.87" fill="#fff" textLength="35.17" lengthAdjust="spacingAndGlyphs">Алматы</text>
<text x="505.18" y="305.80" font-size="13.57" font-weight="bold" fill="#ffc000" textLength="18.65" lengthAdjust="spacingAndGlyphs" stroke="#595959" stroke-width="0.22">2,2</text>
<text x="438.95" y="307.10" font-size="9.87" fill="#fff" textLength="39.09" lengthAdjust="spacingAndGlyphs">Жамбыл</text>
<text x="449.18" y="325.50" font-size="13.57" font-weight="bold" fill="#ffc000" textLength="18.65" lengthAdjust="spacingAndGlyphs" stroke="#595959" stroke-width="0.22">7,7</text>
<text x="373.36" y="317.60" font-size="9.87" fill="#fff" textLength="42.47" lengthAdjust="spacingAndGlyphs">Түркістан</text>
<text x="385.18" y="340.00" font-size="13.57" font-weight="bold" fill="#ffc000" textLength="18.65" lengthAdjust="spacingAndGlyphs" stroke="#595959" stroke-width="0.22">1,1</text>
<text x="275.88" y="285.60" font-size="9.87" fill="#fff" textLength="52.65" lengthAdjust="spacingAndGlyphs">Қызылорда</text>
<text x="293.38" y="305.30" font-size="13.57" font-weight="bold" fill="#ffc000" textLength="18.65" lengthAdjust="spacingAndGlyphs" stroke="#595959" stroke-width="0.22">2,4</text>
</g>
<rect x="5" y="420.7" width="651" height="2.2" fill="#595959"/>
<text x="658.00" y="423.00" font-size="13.57" font-weight="bold" font-style="italic" fill="#595959" textLength="67.28" lengthAdjust="spacingAndGlyphs">Finprom.kz</text>
<text x="6.00" y="436.20" font-size="11.10" font-style="italic" fill="#555555" textLength="349.30" lengthAdjust="spacingAndGlyphs">ҚР СЖРА Ұлттық статистика бюросының мәліметтері негізінде</text>
</svg>
</body></html>
